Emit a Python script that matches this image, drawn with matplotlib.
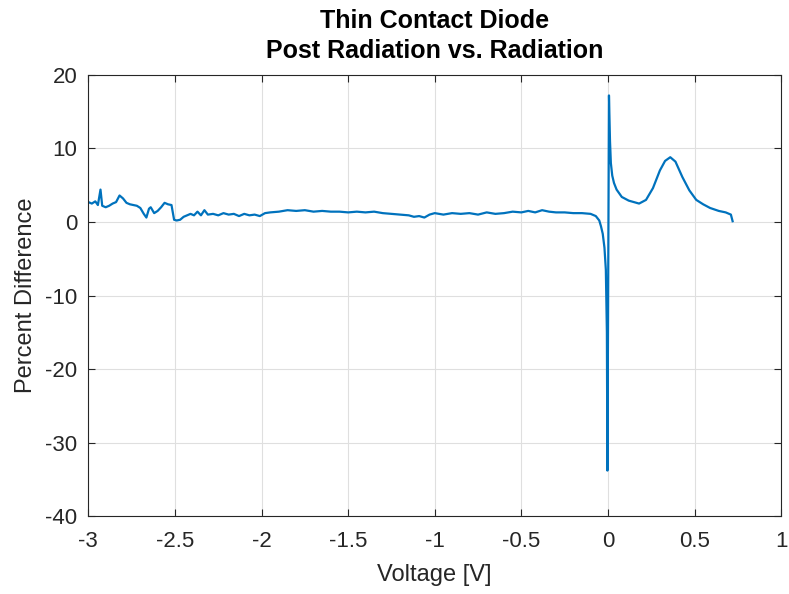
"""Percent difference of a thin contact diode, post radiation vs. radiation."""
import matplotlib

matplotlib.use("Agg")
import matplotlib.pyplot as plt  # noqa: E402

plt.rcParams["font.family"] = ["Liberation Sans", "DejaVu Sans"]
plt.rcParams["axes.unicode_minus"] = False

# Reverse bias region (noisy, roughly flat)
volt_rev = [-3.00, -2.98, -2.96, -2.945, -2.93, -2.92, -2.90, -2.88, -2.86, -2.84,
            -2.82, -2.80, -2.78, -2.76, -2.74, -2.72, -2.70, -2.68, -2.665, -2.65,
            -2.64, -2.62, -2.60, -2.58, -2.56, -2.54, -2.52, -2.505, -2.49, -2.47,
            -2.45, -2.43, -2.41, -2.39, -2.37, -2.35, -2.33, -2.31, -2.28, -2.25,
            -2.22, -2.19, -2.16, -2.13, -2.10, -2.07, -2.04, -2.01, -1.98, -1.95,
            -1.90, -1.85, -1.80, -1.75, -1.70, -1.65, -1.60, -1.55, -1.50, -1.45,
            -1.40, -1.35, -1.30, -1.25, -1.20, -1.15, -1.12, -1.09, -1.06, -1.03,
            -1.00, -0.95, -0.90, -0.85, -0.80, -0.75, -0.70, -0.65, -0.60, -0.55,
            -0.50, -0.46, -0.42, -0.38, -0.34, -0.30, -0.25, -0.20, -0.15, -0.10]
pct_rev = [2.7, 2.5, 2.8, 2.3, 4.4, 2.2, 2.0, 2.2, 2.5, 2.7,
           3.6, 3.2, 2.6, 2.4, 2.3, 2.2, 1.9, 1.1, 0.6, 1.8,
           2.0, 1.2, 1.5, 2.0, 2.6, 2.4, 2.3, 0.3, 0.2, 0.3,
           0.7, 0.9, 1.1, 0.9, 1.4, 0.9, 1.6, 1.0, 1.1, 0.9,
           1.2, 1.0, 1.1, 0.8, 1.1, 0.9, 1.0, 0.8, 1.2, 1.3,
           1.4, 1.6, 1.5, 1.6, 1.4, 1.5, 1.4, 1.4, 1.3, 1.4,
           1.3, 1.4, 1.2, 1.1, 1.0, 0.9, 0.7, 0.8, 0.6, 1.0,
           1.2, 1.0, 1.2, 1.1, 1.2, 1.0, 1.3, 1.1, 1.2, 1.4,
           1.3, 1.5, 1.3, 1.6, 1.4, 1.3, 1.3, 1.2, 1.2, 1.1]

# Turn-on region: dip and spike near 0 V, then forward bias hump
volt_fwd = [-0.07, -0.05, -0.04, -0.03, -0.02, -0.012, -0.006, -0.003, 0.003, 0.006,
            0.012, 0.017, 0.025, 0.035, 0.05, 0.08, 0.12, 0.18, 0.22, 0.26,
            0.30, 0.33, 0.36, 0.39, 0.43, 0.47, 0.51, 0.55, 0.59, 0.64,
            0.68, 0.70, 0.71, 0.72]
pct_fwd = [0.8, 0.2, -0.6, -1.6, -3.5, -6.5, -15.0, -33.8, 0.0, 17.2,
           11.0, 8.0, 6.3, 5.3, 4.4, 3.4, 2.9, 2.5, 3.0, 4.6,
           7.0, 8.3, 8.8, 8.2, 6.1, 4.3, 3.0, 2.4, 1.9, 1.5,
           1.3, 1.1, 1.0, 0.1]

volt = volt_rev + volt_fwd
pct = pct_rev + pct_fwd

x_ticks = [-3, -2.5, -2, -1.5, -1, -0.5, 0, 0.5, 1]
x_tick_labels = ["-3", "-2.5", "-2", "-1.5", "-1", "-0.5", "0", "0.5", "1"]
y_ticks = [-40, -30, -20, -10, 0, 10, 20]

fig = plt.figure(figsize=(7.89, 5.94), dpi=100)
ax = fig.add_axes([0.112, 0.131, 0.878, 0.743])
ax.plot(volt, pct, color="#0072BD", linewidth=1.6)

ax.set_xlim(-3, 1)
ax.set_ylim(-40, 20)
ax.set_xticks(x_ticks)
ax.set_xticklabels(x_tick_labels)
ax.set_yticks(y_ticks)
ax.grid(True, color="#dfdfdf", linewidth=0.8)
ax.set_axisbelow(True)
for s in ax.spines.values():
    s.set_color("#262626")
    s.set_linewidth(0.8)
ax.tick_params(direction="in", top=True, right=True, length=5, width=0.8,
               colors="#262626", labelsize=16, pad=8)
ax.tick_params(axis="x", pad=11)

ax.set_xlabel("Voltage [V]", fontsize=17, color="#262626", labelpad=8)
ax.set_ylabel("Percent Difference", fontsize=17, color="#262626", labelpad=6)
ax.set_title("Thin Contact Diode\nPost Radiation vs. Radiation",
             fontsize=18, fontweight="bold", color="black", pad=12,
             linespacing=1.35)

fig.savefig("out.png", dpi=100)
plt.close(fig)
